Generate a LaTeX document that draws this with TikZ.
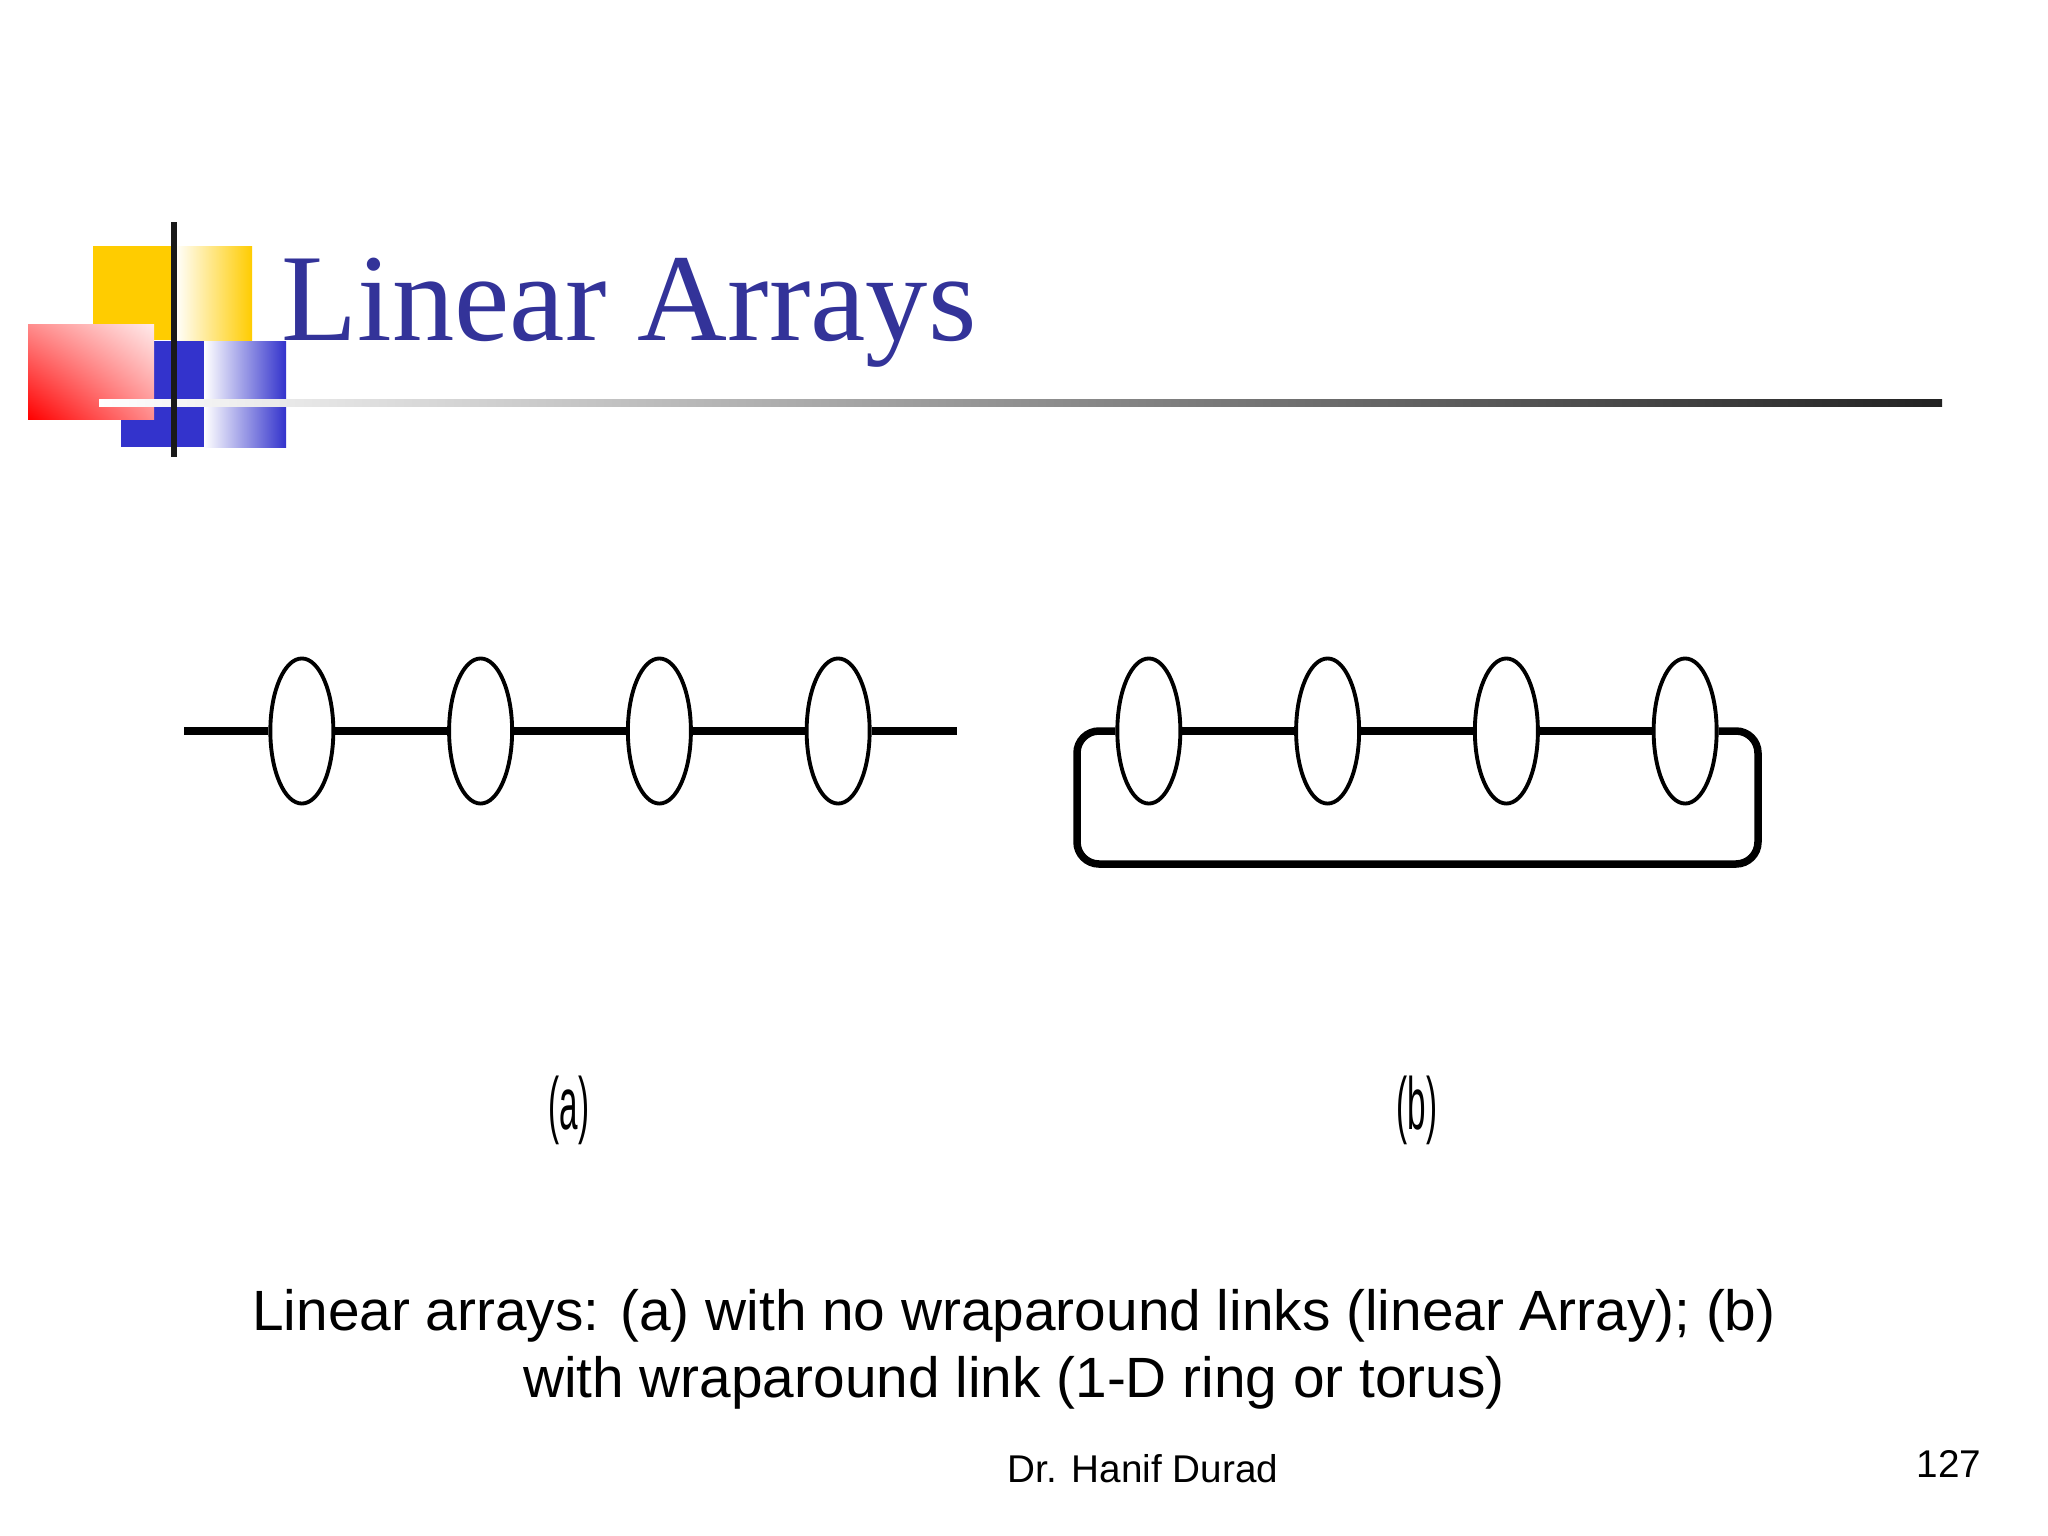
\documentclass[tikz,border=0pt]{standalone}
\usepackage{fontspec}
\setmainfont{Liberation Sans}
\newfontfamily\titlefont{Liberation Serif}
\usepackage{tikz}
\usetikzlibrary{matrix,shapes.geometric,shadings}
\definecolor{titleblue}{RGB}{51,51,153}
\definecolor{logoyellow}{RGB}{255,204,0}
\definecolor{logoblue}{RGB}{51,51,204}
\definecolor{rulegray}{RGB}{34,34,34}

\begin{document}
\begin{tikzpicture}[x=0.01cm, y=-0.01cm,
  proc/.style={ellipse, draw, fill=white, line width=1.1pt, minimum width=0.63cm, minimum height=1.45cm, inner sep=0pt},
  link/.style={line width=0.075cm},
  txt/.style={inner sep=0pt}]
  \useasboundingbox[fill=white] (0,0) rectangle (2048,1536);
  \fill[logoyellow] (93,246) rectangle (175,340);
  \shade[left color=white, right color=logoyellow] (175,246) rectangle (252,340);
  \fill[logoblue] (121,341) rectangle (204,447);
  \shade[left color=white, right color=logoblue] (204,341) rectangle (286,447);
  \shade[lower left=red, upper right={rgb,255:red,255;green,235;blue,235},
    upper left=red!45!white, lower right=red!45!white] (28,324) rectangle (154,419);
  \shade[left color=white, right color=rulegray] (99,399) rectangle (1942,406);
  \fill[black!90] (171,222) rectangle (177,457);
  \node[txt, anchor=base west, font=\titlefont\fontsize{35.4}{42}\selectfont, text=titleblue] (title) at (281,340) {Linear Arrays};

  \matrix (a) [matrix of nodes, nodes={proc}, nodes in empty cells, column sep=1.118cm] at (570,731) { & & & \\ };
  \matrix (b) [matrix of nodes, nodes={proc}, nodes in empty cells, column sep=1.118cm] at (1417,731) { & & & \\ };
  \coordinate (a-in) at (184,731);
  \coordinate (a-out) at (957,731);
  \coordinate (b-ne) at (1758,731);
  \coordinate (b-se) at (1758,864);
  \coordinate (b-sw) at (1077,864);
  \coordinate (b-nw) at (1077,731);
  \path[link]
  (a-in) edge (a-1-1)
  (a-1-1) edge (a-1-2)
  (a-1-2) edge (a-1-3)
  (a-1-3) edge (a-1-4)
  (a-1-4) edge (a-out)
  (b-1-1) edge (b-1-2)
  (b-1-2) edge (b-1-3)
  (b-1-3) edge (b-1-4);
  \draw[link, rounded corners=0.22cm] (b-1-4) -- (b-ne) -- (b-se) -- (b-sw) -- (b-nw) -- (b-1-1);

  \node[txt, font=\fontsize{21}{25}\selectfont] (cap-a) at (569,1110) {\scalebox{0.45}[1]{(a)}};
  \node[txt, font=\fontsize{21}{25}\selectfont] (cap-b) at (1417,1110) {\scalebox{0.45}[1]{(b)}};
  \node[txt, align=center, font=\fontsize{16.15}{19.1}\selectfont] (caption) at (1014,1349)
    {Linear arrays: (a) with no wraparound links (linear Array); (b)\\ with wraparound link (1-D ring or torus)};
  \node[txt, anchor=base, font=\fontsize{11}{13}\selectfont] (author) at (1143,1482) {Dr. Hanif Durad};
  \node[txt, anchor=base, font=\fontsize{11}{13}\selectfont] (page) at (1949,1477) {127};
\end{tikzpicture}
\end{document}
